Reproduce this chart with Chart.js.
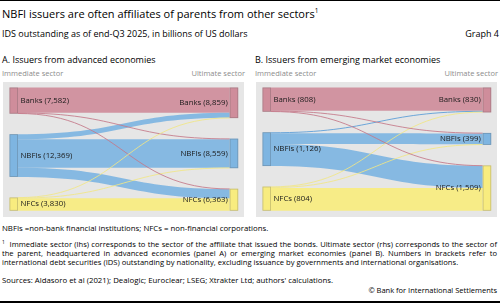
<!DOCTYPE html>
<html>
<head>
<meta charset="utf-8">
<script src="https://cdn.jsdelivr.net/npm/chart.js@4.4.1/dist/chart.umd.min.js"></script>
<style>
  html, body { margin:0; padding:0; }
  body { width:500px; height:304px; position:relative; overflow:hidden; background:#fff; font-family:"Open Sans", sans-serif; color:#000; }
  .t { position:absolute; white-space:nowrap; line-height:1.2; }
  .rule-top { position:absolute; left:0; top:0; width:500px; height:1.3px; background:#000; }
  .rule-bot { position:absolute; left:0; top:301px; width:500px; height:2px; background:#000; }
  .panel { position:absolute; top:82px; width:241px; height:135px; background:#e6e6e6; }
  .panel canvas { display:block; }
  .fn { position:absolute; left:2px; width:495px; font-size:7.6px; line-height:1.2; white-space:nowrap; text-align:justify; text-align-last:justify; }
</style>
</head>
<body>
<div class="rule-top"></div>
<div class="t" style="left:2px; top:7.2px; font-size:11px;">NBFI issuers are often affiliates of parents from other sectors<sup style="font-size:6.5px; vertical-align:5px; line-height:0;">1</sup></div>
<div class="t" style="left:2px; top:28.8px; font-size:9px;">IDS outstanding as of end-Q3 2025, in billions of US dollars</div>
<div class="t" style="right:1px; top:28.8px; font-size:9px;">Graph 4</div>

<div class="t" style="left:2px; top:55.1px; font-size:9px;">A. Issuers from advanced economies</div>
<div class="t" style="left:255px; top:55.1px; font-size:9px;">B. Issuers from emerging market economies</div>
<div class="t" style="left:2px; top:69.3px; font-size:7.5px; color:#8c8c8c;">Immediate sector</div>
<div class="t" style="right:255px; top:69.3px; font-size:7.5px; color:#8c8c8c;">Ultimate sector</div>
<div class="t" style="left:255px; top:69.3px; font-size:7.5px; color:#8c8c8c;">Immediate sector</div>
<div class="t" style="right:2px; top:69.3px; font-size:7.5px; color:#8c8c8c;">Ultimate sector</div>

<div class="panel" style="left:3px;"><canvas id="chartA" width="241" height="135"></canvas></div>
<div class="panel" style="left:256px;"><canvas id="chartB" width="241" height="135"></canvas></div>

<div class="t" style="left:2px; top:224.2px; font-size:7.8px;">NBFIs =non-bank financial institutions; NFCs = non-financial corporations.</div>
<div class="fn" style="top:240.2px;"><sup style="font-size:5px; vertical-align:3px; line-height:0;">1</sup>&nbsp; Immediate sector (lhs) corresponds to the sector of the affiliate that issued the bonds. Ultimate sector (rhs) corresponds to the sector of</div>
<div class="fn" style="top:249.2px;">the parent, headquartered in advanced economies (panel A) or emerging market economies (panel B). Numbers in brackets refer to</div>
<div class="t" style="left:2px; top:258.2px; font-size:7.6px;">international debt securities (IDS) outstanding by nationality, excluding issuance by governments and international organisations.</div>
<div class="t" style="left:2px; top:276.4px; font-size:7.8px;">Sources: Aldasoro et al (2021); Dealogic; Euroclear; LSEG; Xtrakter Ltd; authors' calculations.</div>
<div class="t" style="right:3px; top:286.2px; font-size:7.5px;">© Bank for International Settlements</div>
<div class="rule-bot"></div>

<script>
// ---------------- DATA ----------------
const sectors = ['Banks', 'NBFIs', 'NFCs'];

// Panel A: advanced economies. Each array: flows from one immediate sector
// to the ultimate sectors [Banks, NBFIs, NFCs]
const advBanksTo = [7300, 150, 132];
const advNbfisTo = [1459, 8259, 2651];
const advNfcsTo  = [100, 150, 3580];
const advImmediateTotals = [7582, 12369, 3830];
const advUltimateTotals  = [8859, 8559, 6363];

// Panel B: emerging market economies
const emeBanksTo = [778, 15, 15];
const emeNbfisTo = [32, 360, 734];
const emeNfcsTo  = [20, 24, 760];
const emeImmediateTotals = [808, 1126, 804];
const emeUltimateTotals  = [830, 399, 1509];

// ---------------- STYLE ----------------
const sectorColors = ['#cf8d9b', '#7eb5e1', '#f8ec7f'];
const thinColors   = ['#c47788', '#66a3d8', '#f1e685'];
const nodeBorder   = 'rgba(80,80,80,0.3)';
const NODE_W = 8.5;       // px
const GAP_FRAC = 0.25;    // vertical gap between nodes, as a share of column total
const LABEL_FONT = '7.8px "Open Sans"';

const sankeyPlugin = {
  id: 'sankeyFlows',
  afterDraw(chart, args, opts) {
    const ctx = chart.ctx;
    const xs = chart.scales.x, ys = chart.scales.y;
    const left = opts.left, right = opts.right, flows = opts.flows;
    const total = left.reduce((a, b) => a + b, 0);
    const gap = total * GAP_FRAC;
    const tops = arr => { let acc = 0; return arr.map(v => { const t = acc; acc += v + gap; return t; }); };
    const lt = tops(left), rt = tops(right);
    const xL0 = xs.getPixelForValue(0), xR1 = xs.getPixelForValue(1);
    const xL1 = xL0 + NODE_W, xR0 = xR1 - NODE_W;
    const xm = (xL1 + xR0) / 2;

    const outOff = left.map(() => 0), inOff = right.map(() => 0);
    const links = [];
    for (let i = 0; i < flows.length; i++) {
      for (let j = 0; j < flows[i].length; j++) {
        const v = flows[i][j];
        links.push({ i, j, v, s0: lt[i] + outOff[i], t0: rt[j] + inOff[j] });
        outOff[i] += v; inOff[j] += v;
      }
    }
    links.sort((a, b) => b.v - a.v);
    ctx.save();
    for (const l of links) {
      const y0t = ys.getPixelForValue(l.s0), y0b = ys.getPixelForValue(l.s0 + l.v);
      const y1t = ys.getPixelForValue(l.t0), y1b = ys.getPixelForValue(l.t0 + l.v);
      const w = y0b - y0t;
      if (w < 1.3) {
        const ya = (y0t + y0b) / 2, yb = (y1t + y1b) / 2;
        ctx.beginPath();
        ctx.moveTo(xL1, ya);
        ctx.bezierCurveTo(xm, ya, xm, yb, xR0, yb);
        ctx.strokeStyle = thinColors[l.i];
        ctx.globalAlpha = 1;
        ctx.lineWidth = Math.max(w, 0.85);
        ctx.stroke();
      } else {
        ctx.beginPath();
        ctx.moveTo(xL1, y0t);
        ctx.bezierCurveTo(xm, y0t, xm, y1t, xR0, y1t);
        ctx.lineTo(xR0, y1b);
        ctx.bezierCurveTo(xm, y1b, xm, y0b, xL1, y0b);
        ctx.closePath();
        ctx.fillStyle = sectorColors[l.i];
        ctx.globalAlpha = 0.93;
        ctx.fill();
      }
    }
    ctx.globalAlpha = 1;
    // nodes
    const drawNodes = (arr, tp, x0) => {
      arr.forEach((v, k) => {
        const yt = ys.getPixelForValue(tp[k]), yb = ys.getPixelForValue(tp[k] + v);
        ctx.fillStyle = sectorColors[k];
        ctx.fillRect(x0, yt, NODE_W, yb - yt);
        ctx.strokeStyle = nodeBorder;
        ctx.lineWidth = 0.8;
        ctx.strokeRect(x0 + 0.4, yt + 0.4, NODE_W - 0.8, yb - yt - 0.8);
      });
    };
    drawNodes(left, lt, xL0);
    drawNodes(right, rt, xR0);
    // labels
    ctx.font = LABEL_FONT;
    ctx.fillStyle = '#1a1a1a';
    ctx.textBaseline = 'middle';
    left.forEach((v, k) => {
      const yc = ys.getPixelForValue(lt[k] + v / 2);
      ctx.textAlign = 'left';
      ctx.fillText(sectors[k] + ' (' + v.toLocaleString('en-US') + ')', xL1 + 2.5, yc);
    });
    right.forEach((v, k) => {
      const yc = ys.getPixelForValue(rt[k] + v / 2);
      ctx.textAlign = 'right';
      ctx.fillText(sectors[k] + ' (' + v.toLocaleString('en-US') + ')', xR0 - 2, yc);
    });
    ctx.restore();
  }
};

function makeChart(id, leftTotals, rightTotals, flows) {
  const total = leftTotals.reduce((a, b) => a + b, 0);
  return new Chart(document.getElementById(id), {
    type: 'scatter',
    data: { datasets: [] },
    plugins: [sankeyPlugin],
    options: {
      responsive: false,
      animation: false,
      events: [],
      layout: { padding: { left: 6.5, right: 5.8, top: 5.5, bottom: 6.3 } },
      scales: {
        x: { type: 'linear', min: 0, max: 1, display: false },
        y: { type: 'linear', min: 0, max: total * (1 + 2 * GAP_FRAC), reverse: true, display: false }
      },
      plugins: {
        legend: { display: false },
        tooltip: { enabled: false },
        sankeyFlows: { left: leftTotals, right: rightTotals, flows: flows }
      }
    }
  });
}

makeChart('chartA', advImmediateTotals, advUltimateTotals, [advBanksTo, advNbfisTo, advNfcsTo]);
makeChart('chartB', emeImmediateTotals, emeUltimateTotals, [emeBanksTo, emeNbfisTo, emeNfcsTo]);
</script>
</body>
</html>
